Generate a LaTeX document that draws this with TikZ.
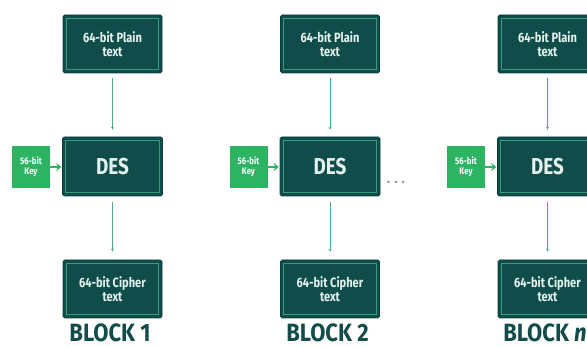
\documentclass[tikz,border=0pt]{standalone}
\usepackage{fontspec}
\setmainfont{Fira Sans}
\newfontfamily\condfont[FakeStretch=0.82]{Fira Sans}
\newfontfamily\labelfont[FakeStretch=0.88]{Fira Sans}
\usetikzlibrary{arrows.meta}
\definecolor{boxfill}{HTML}{0F4C4A}
\definecolor{boxline}{HTML}{3A9A7E}
\definecolor{keygreen}{HTML}{2DB462}
\definecolor{arrowgreen}{HTML}{4AAE80}
\definecolor{boxtext}{HTML}{E4F2EE}
\definecolor{blocktext}{HTML}{134C4B}
\begin{document}
\begin{tikzpicture}[x=1pt,y=-1pt,
  dbox/.style={fill=boxfill, draw=boxfill!80!black, line width=0.6pt, rounded corners=1.5pt,
    text=boxtext, font=\condfont\bfseries\fontsize{13.5}{14.5}\selectfont, align=center,
    minimum width=99pt, minimum height=58pt, inner sep=0pt},
  desbox/.style={dbox, font=\condfont\bfseries\fontsize{23}{24}\selectfont, minimum width=100pt, minimum height=59pt},
  keybox/.style={fill=keygreen, text=white, font=\condfont\bfseries\fontsize{9.5}{10}\selectfont,
    align=center, minimum width=38pt, minimum height=42pt, inner sep=0pt},
  flow/.style={draw=arrowgreen, line width=0.8pt, -{Stealth[length=3pt,width=3pt]}},
  keyarrow/.style={draw=keygreen, line width=2.2pt, -{Stealth[length=5pt,width=8pt]}},
  blocklabel/.style={text=blocktext, font=\labelfont\bfseries\fontsize{25}{26}\selectfont, inner sep=0pt},
  dots/.style={text=gray!80, font=\bfseries\fontsize{14}{14}\selectfont, inner sep=0pt}
]
\useasboundingbox (0,0) rectangle (587,347);
\foreach \i/\dx/\lab in {1/0/{BLOCK 1}, 2/217.5/{BLOCK 2}, 3/435/{BLOCK \textit{n}}} {
  \node[dbox] (p\i) at (112.5+\dx,44) {64-bit Plain\\text};
  \node[desbox] (d\i) at (112.5+\dx,166.5) {DES};
  \node[dbox] (c\i) at (112.5+\dx,289) {64-bit Cipher\\text};
  \node[keybox] (k\i) at (31+\dx,167) {56-bit\\Key};
  \node[blocklabel] (b\i) at (110+\dx,333) {\lab};
  \foreach \n in {p\i,d\i,c\i} {
    \draw[boxline, line width=0.8pt] ([shift={(3.5pt,-3.5pt)}]\n.north west) rectangle ([shift={(-3.5pt,3.5pt)}]\n.south east);
  }
  \draw[flow, shorten <=5pt, shorten >=7pt] (p\i) -- (d\i);
  \draw[flow, shorten <=6pt, shorten >=8pt] (d\i) -- (c\i);
  \draw[keyarrow, shorten >=1pt] (k\i.east) -- (d\i.west |- k\i.east);
}
\node[dots] (dots) at (396,182) {.\hspace{4pt}.\hspace{4pt}.};
\end{tikzpicture}
\end{document}
